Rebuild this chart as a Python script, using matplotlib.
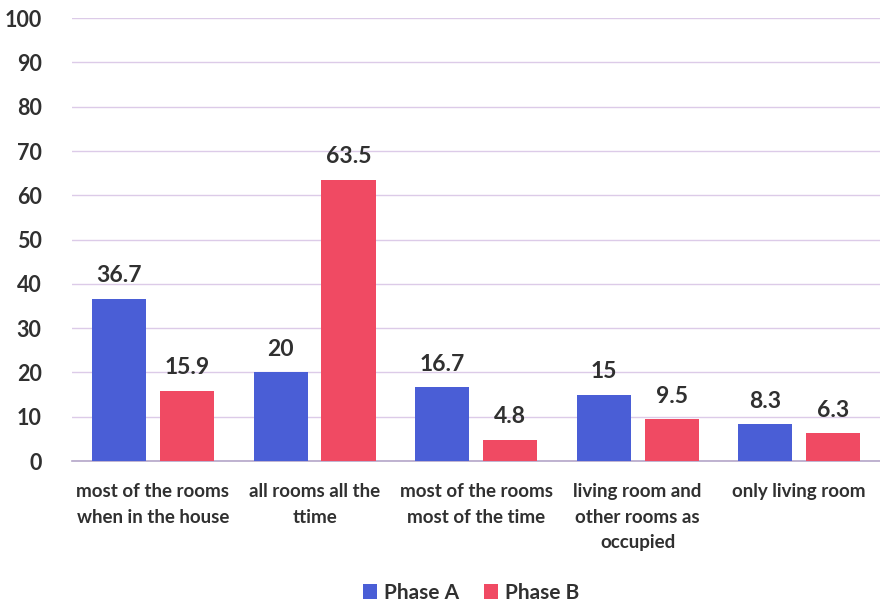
import numpy as np
import matplotlib.pyplot as plt

plt.rcParams['font.family'] = ['Lato', 'DejaVu Sans']

categories = ["most of the rooms\nwhen in the house", "all rooms all the\nttime",
              "most of the rooms\nmost of the time", "living room and\nother rooms as\noccupied",
              "only living room"]
phase_a = [36.7, 20, 16.7, 15, 8.3]
phase_b = [15.9, 63.5, 4.8, 9.5, 6.3]

blue = "#4a5ed6"
red = "#f04a63"
txt = "#303030"

fig = plt.figure(figsize=(8.8, 6.07), dpi=100)
ax = fig.add_axes([0.082, 0.2405, 0.918, 0.7295])

x = np.arange(len(categories))
w = 0.335
off = 0.21
bars_a = ax.bar(x - off, phase_a, w, color=blue, label="Phase A", zorder=3)
bars_b = ax.bar(x + off, phase_b, w, color=red, label="Phase B", zorder=3)

# value labels above bars
for bars, vals in [(bars_a, phase_a), (bars_b, phase_b)]:
    for b, v in zip(bars, vals):
        ax.text(b.get_x() + b.get_width() / 2, v + 2.8, f"{v:g}", ha="center", va="bottom",
                fontsize=16.5, fontweight="bold", color=txt)

ax.set_xlim(-0.5, 4.5)
ax.set_ylim(0, 100)
ax.set_yticks(range(0, 101, 10))
ax.set_xticks(x)
ax.set_xticklabels(categories, fontsize=13.5, fontweight="bold", color=txt, linespacing=1.6)
for t in ax.get_yticklabels():
    t.set_fontweight("bold")
ax.tick_params(axis="y", labelsize=15.5, labelcolor=txt, length=0, pad=22)
ax.tick_params(axis="x", length=0, pad=16)
ax.grid(axis="y", color="#dccbe8", linewidth=1, zorder=0)
for s in ["top", "right", "left"]:
    ax.spines[s].set_visible(False)
ax.spines["bottom"].set_color("#b4a6c8")
ax.spines["bottom"].set_linewidth(1.2)

fig.legend(loc="center", bbox_to_anchor=(0.535, 0.023), ncol=2, frameon=False,
           prop={"size": 15, "weight": "bold"},
           handlelength=0.7, handleheight=0.7, handletextpad=0.3, columnspacing=1.2)
for t in fig.legends[0].get_texts():
    t.set_color(txt)

fig.savefig("out.png", dpi=100)
